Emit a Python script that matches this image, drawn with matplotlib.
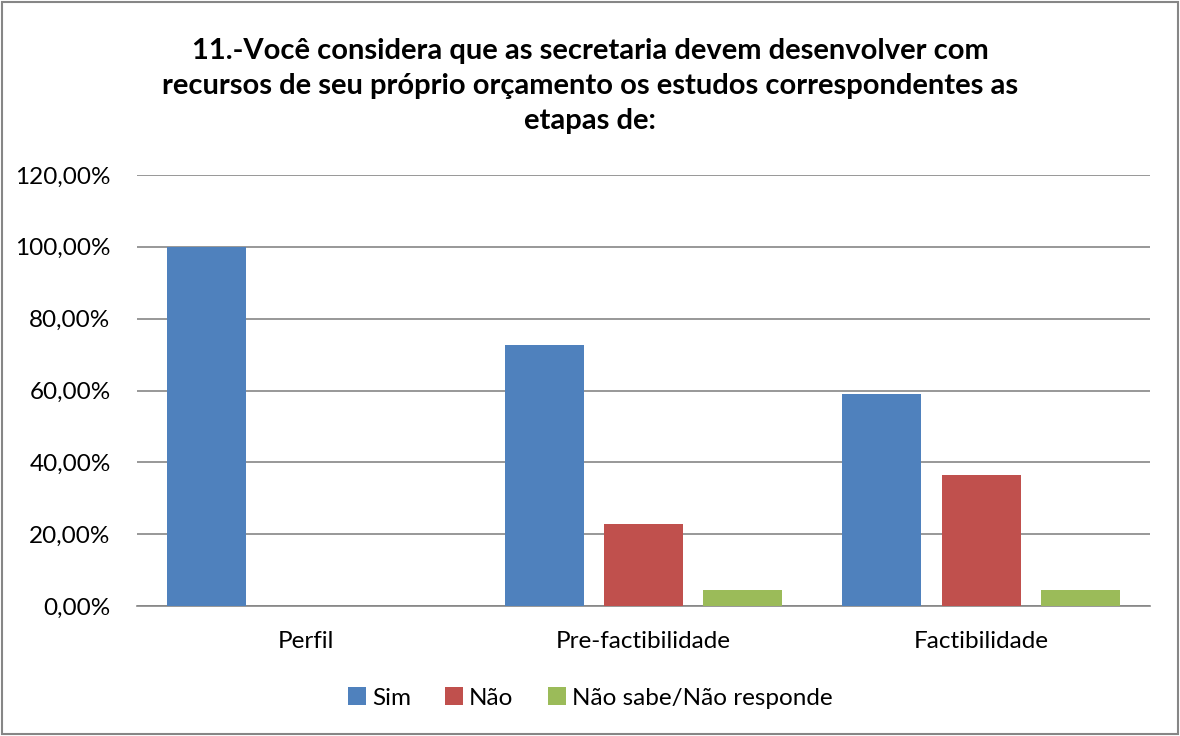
import matplotlib.pyplot as plt
import numpy as np
from matplotlib.ticker import FuncFormatter
from matplotlib.patches import Rectangle

plt.rcParams['font.family'] = ['Lato', 'DejaVu Sans']

categories = ['Perfil', 'Pre-factibilidade', 'Factibilidade']
series_names = ['Sim', 'Não', 'Não sabe/Não responde']
sim = [100.0, 72.73, 59.09]
nao = [0.0, 22.73, 36.36]
nsnr = [0.0, 4.55, 4.55]
colors = ['#4F81BD', '#C0504D', '#9BBB59']
title = ('11.-Você considera que as secretaria devem desenvolver com\n'
         'recursos de seu próprio orçamento os estudos correspondentes as\n'
         'etapas de:')

fig = plt.figure(figsize=(11.8, 7.36), dpi=100)
ax = fig.add_axes([137/1180, 1-606/736, (1150-137)/1180, (606-175)/736])

x = np.arange(len(categories))
step = 0.2946
width = 0.234
for i, (vals, name) in enumerate(zip([sim, nao, nsnr], series_names)):
    ax.bar(x + (i-1)*step, vals, width, color=colors[i], label=name, zorder=3)

ax.set_xlim(-0.5, len(categories)-0.5)
ax.set_ylim(0, 120)
ax.set_yticks(np.arange(0, 121, 20))
ax.yaxis.set_major_formatter(FuncFormatter(lambda v, p: f"{v:.2f}".replace('.', ',') + '%'))
ax.set_xticks(x)
ax.set_xticklabels(categories)
ax.tick_params(axis='both', length=0, labelsize=17.5, colors='black')
ax.tick_params(axis='x', pad=18)
ax.tick_params(axis='y', pad=19)
ax.grid(axis='y', color='#868686', linewidth=1.2, zorder=0)
for s in ['top', 'right', 'left']:
    ax.spines[s].set_visible(False)
ax.spines['bottom'].set_color('#868686')
ax.spines['bottom'].set_linewidth(1.2)

fig.text(0.5, 1-86/736, title, ha='center', va='center', fontsize=21,
         fontweight='bold', linespacing=1.42)

leg = fig.legend(loc='center', bbox_to_anchor=(0.5, 1-698/736), ncol=3, frameon=False,
                 fontsize=17.5, handlelength=0.75, handleheight=0.75, handletextpad=0.25,
                 columnspacing=1.4)

fig.patches.append(Rectangle((2/1180, 2/736), 1-4/1180, 1-4/736, transform=fig.transFigure,
                             fill=False, edgecolor='#868686', linewidth=1.5))

fig.savefig('out.png', dpi=100)
